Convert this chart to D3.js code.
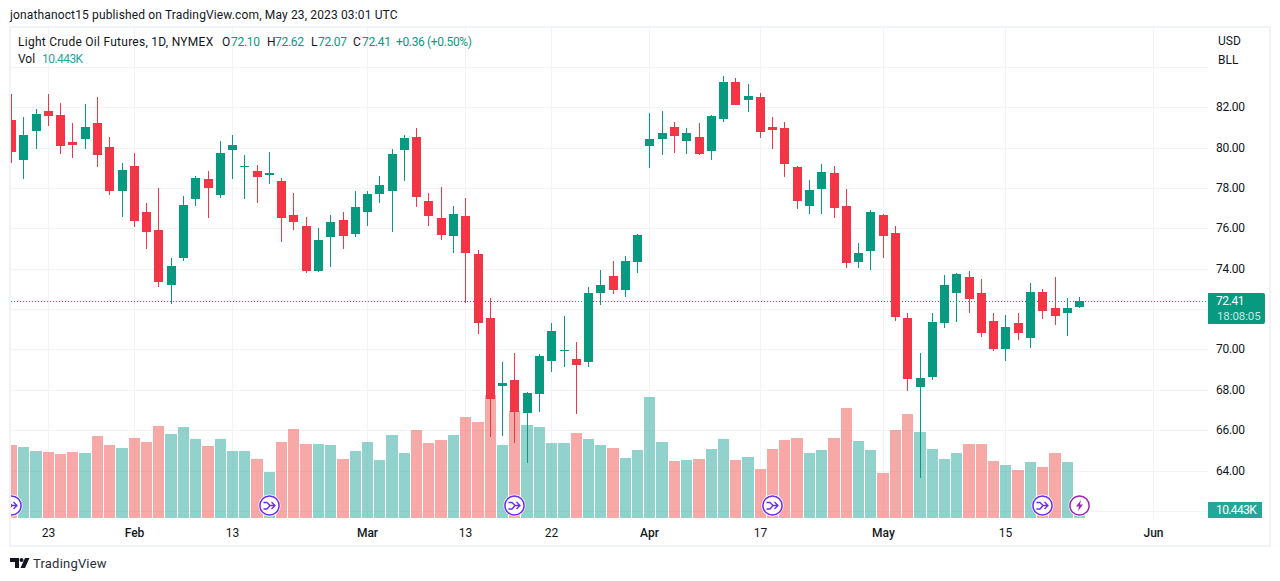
<!DOCTYPE html>
<html><head><meta charset="utf-8">
<script src="https://cdn.jsdelivr.net/npm/d3@7/dist/d3.min.js"></script>
<style>html,body{margin:0;padding:0;background:#fff}svg{display:block}
text{font-family:"Roboto","Noto Sans",sans-serif;font-size:12px;fill:#131722}</style>
</head><body><svg id="c" width="1280" height="581"></svg>
<script>
const opens=[81.37,79.39,80.83,81.82,81.62,80.28,80.43,81.22,80.03,77.85,79.09,76.81,75.92,73.19,74.53,77.46,78.45,77.65,79.88,79.07,78.84,78.64,78.35,76.66,76.12,73.89,75.57,76.42,75.72,76.81,77.70,77.85,79.88,80.53,77.36,76.51,75.62,76.61,74.73,71.56,68.19,68.49,66.85,67.79,69.43,69.95,69.53,69.38,72.80,73.64,72.95,74.33,80.08,80.43,81.02,80.33,80.53,79.83,81.42,83.25,82.36,82.51,81.02,80.97,79.04,77.11,77.95,78.74,77.11,74.33,74.88,76.66,75.77,71.56,68.14,68.64,71.31,72.80,73.59,72.80,71.41,70.02,71.31,70.57,72.85,72.05,71.81,72.10];
const highs=[82.66,81.52,81.92,82.66,82.21,81.22,82.16,82.51,80.53,79.24,79.73,77.26,78.01,74.53,77.61,78.60,78.84,80.33,80.63,79.64,79.14,79.79,78.50,77.75,76.56,76.02,76.66,76.81,77.85,77.85,78.60,79.93,80.63,80.97,77.75,78.05,77.11,77.50,74.93,72.55,69.38,69.83,67.89,69.78,71.31,71.66,70.37,73.10,73.94,74.38,74.63,75.72,81.72,81.82,81.27,80.97,81.22,81.62,83.55,83.45,83.15,82.71,81.52,81.27,79.09,78.40,79.19,79.09,77.95,75.28,76.91,76.71,76.12,71.81,69.83,71.81,73.69,73.79,73.89,73.49,71.81,71.71,71.81,73.29,73.00,73.59,72.55,72.62];
const lows=[79.24,78.45,79.93,81.07,79.69,79.49,79.93,79.04,77.65,76.56,76.07,74.98,73.10,72.25,74.38,77.11,76.51,77.50,78.45,77.46,77.26,78.20,75.33,75.92,73.79,73.84,74.09,74.98,75.57,76.12,77.26,75.82,78.35,77.06,76.12,75.41,74.78,72.30,70.77,65.66,65.71,65.37,64.37,66.90,68.88,69.13,66.80,69.13,72.20,72.75,72.60,73.79,78.99,79.64,79.73,79.69,79.64,79.39,81.27,82.11,81.77,80.48,79.93,78.55,76.96,76.71,76.71,76.51,74.04,74.04,73.94,74.53,71.41,67.94,63.63,68.49,71.06,71.36,71.81,70.62,69.92,69.43,70.47,70.07,71.51,71.21,70.67,72.07];
const closes=[79.79,80.63,81.67,81.57,80.08,80.13,81.02,79.64,77.85,78.89,76.37,75.82,73.34,74.13,77.16,78.50,78.01,79.73,80.13,79.09,78.55,78.74,76.51,76.32,73.89,75.43,76.32,75.62,77.06,77.70,78.15,79.69,80.48,77.56,76.61,75.67,76.71,74.78,71.31,67.55,68.34,66.90,67.84,69.68,70.92,69.97,69.23,72.80,73.19,72.95,74.38,75.67,80.43,80.73,80.58,80.73,79.69,81.57,83.25,82.11,82.56,80.78,80.88,79.19,77.36,77.90,78.79,77.01,74.29,74.78,76.81,75.62,71.61,68.54,68.59,71.36,73.19,73.74,72.50,70.82,70.02,71.11,70.82,72.85,71.91,71.66,72.05,72.41];
const volumes=[50.7,49.3,46.5,45.8,44.4,45.8,45.1,56.9,50.7,48.6,55.6,52.8,63.9,58.3,63.2,54.9,50,54.9,46.5,46.5,41,31.9,52.8,61.8,51.4,51.4,50.7,41,46.5,52.8,40.3,57.6,45.1,61.1,52.1,54.2,57.6,70.1,66.7,85.4,50.7,74.3,64.6,63.2,52.1,52.1,59,54.9,50.7,48.6,41.7,47.2,84,52.8,39.6,40.3,41,47.9,54.9,40.3,42.4,34,47.9,54.2,55.6,45.1,47.2,55.6,76.4,53.5,47.2,31.3,61.1,72.2,59.7,47.9,41,45.1,51.4,51.4,39.6,36.8,33.3,38.9,35.4,45.1,38.9,10.443];
const priceTicks=[84,82,80,78,76,74,72,70,68,66,64,62];
const priceLabels=[82,80,78,76,74,70,68,66,64];
const timeTickIdx=[3,10,18,29,37,44,52,61,71,81,93];
const timeTickLab=["23","Feb","13","Mar","13","22","Apr","17","May","15","Jun"];
const splitMarkers=[0,21,41,62,84];
const boltMarkers=[87];
const lastPrice=72.41;

const UP="#089981",DN="#F23645";
const svg=d3.select("#c");
const paneL=11,paneR=1208,paneT=28,paneB=518;
const x=d3.scaleLinear().domain([0,87]).range([11.6,1079.6]);
const px=i=>Math.floor(x(i));
const y=d3.scaleLinear().domain([82,64]).range([107.3,470.5]);
const v=d3.scaleLinear().domain([0,100]).range([518,374]);

// frame
svg.append("rect").attr("x",10).attr("y",27).attr("width",1260).attr("height",519).attr("fill","#fff").attr("stroke","#f0f3fa").attr("stroke-width",2);
svg.append("defs").append("clipPath").attr("id","pane").append("rect").attr("x",paneL).attr("y",paneT).attr("width",paneR-paneL).attr("height",paneB-paneT);
const pane=svg.append("g").attr("clip-path","url(#pane)");

// grid
pane.selectAll(".gh").data(priceTicks).join("line").attr("x1",paneL).attr("x2",paneR)
  .attr("y1",d=>Math.round(y(d))+.5).attr("y2",d=>Math.round(y(d))+.5).attr("stroke","#f3f3f5");
pane.selectAll(".gv").data(timeTickIdx).join("line").attr("y1",paneT).attr("y2",paneB)
  .attr("x1",d=>px(d)+.5).attr("x2",d=>px(d)+.5).attr("stroke","#f3f3f5");

// volume
pane.selectAll(".v").data(volumes).join("rect")
  .attr("x",(d,i)=>px(i-1)+7).attr("width",(d,i)=>px(i)+6-(px(i-1)+7))
  .attr("y",d=>Math.round(v(d))).attr("height",d=>518-Math.round(v(d)))
  .attr("fill",(d,i)=>closes[i]>=opens[i]?"rgb(38,166,154)":"rgb(239,83,80)").attr("fill-opacity",.5);

// price line
pane.append("line").attr("x1",paneL).attr("x2",paneR).attr("y1",Math.round(y(lastPrice))+.5).attr("y2",Math.round(y(lastPrice))+.5)
  .attr("stroke",UP).attr("stroke-dasharray","1,2");

// candles
const cg=pane.selectAll(".c").data(opens).join("g");
cg.append("rect").attr("x",(d,i)=>px(i)).attr("width",1)
  .attr("y",(d,i)=>Math.round(y(highs[i]))).attr("height",(d,i)=>Math.round(y(lows[i]))-Math.round(y(highs[i])))
  .attr("fill",(d,i)=>closes[i]>=opens[i]?UP:DN);
cg.append("rect").attr("x",(d,i)=>px(i)-4).attr("width",9)
  .attr("y",(d,i)=>Math.round(y(Math.max(opens[i],closes[i]))))
  .attr("height",(d,i)=>Math.max(1,Math.round(y(Math.min(opens[i],closes[i])))-Math.round(y(Math.max(opens[i],closes[i])))))
  .attr("fill",(d,i)=>closes[i]>=opens[i]?UP:DN);

// markers
const my=505.5;
const mk=pane.selectAll(".m").data(splitMarkers).join("g").attr("transform",d=>`translate(${px(d)+.5},${my})`);
mk.append("circle").attr("r",11).attr("fill","#fff");
mk.append("circle").attr("r",9.6).attr("fill","#fff").attr("stroke","#6a2cf5").attr("stroke-width",1.5);
mk.append("path").attr("d","M-6,-3 L-2.5,-3 L0.5,0 L5.5,0 M-6,3.5 L-2.5,3.5 L0.5,0 M2,-3.5 L5.5,0 L2,3.5").attr("fill","none").attr("stroke","#6a2cf5").attr("stroke-width",1.3);
const bk=pane.selectAll(".b").data(boltMarkers).join("g").attr("transform",d=>`translate(${px(d)+.5},${my})`);
bk.append("circle").attr("r",11).attr("fill","#fff");
bk.append("circle").attr("r",9.6).attr("fill","#fff").attr("stroke","#9c27b0").attr("stroke-width",1.5);
bk.append("path").attr("d","M1.5,-5.5 L-3.5,1 L-0.5,1 L-1.5,5.5 L3.5,-1 L0.5,-1 Z").attr("fill","#9c27b0");

// price axis
svg.append("rect").attr("x",1208).attr("y",28).attr("width",60).attr("height",490).attr("fill","#fff");
svg.selectAll(".pt").data(priceLabels).join("text").attr("x",1216).attr("y",d=>Math.round(y(d))+4).style("letter-spacing","-0.3px").text(d=>d.toFixed(2));
svg.append("text").attr("x",1218).attr("y",45).text("USD");
svg.append("text").attr("x",1218).attr("y",64).text("BLL");

// last price tag
svg.append("path").attr("d","M1208,293H1263a2,2 0 0 1 2,2V322a2,2 0 0 1 -2,2H1208Z").attr("fill",UP);
svg.append("text").attr("x",1216).attr("y",305).style("letter-spacing","-0.4px").style("fill","#fff").text(lastPrice.toFixed(2));
svg.append("text").attr("x",1217).attr("y",320).style("font-size","11.5px").style("letter-spacing","-0.1px").style("fill","#c4e8e2").text("18:08:05");
svg.append("rect").attr("x",1208).attr("y",502).attr("width",54).attr("height",16).attr("fill","#26a69a");
svg.append("text").attr("x",1216).attr("y",514).style("letter-spacing","-0.6px").style("fill","#fff").text("10.443K");

// time axis
svg.selectAll(".tt").data(timeTickIdx).join("text").attr("x",d=>px(d)+.5).attr("y",537).attr("text-anchor","middle")
  .style("font-weight",(d,i)=>/[A-Za-z]/.test(timeTickLab[i])?500:400).text((d,i)=>timeTickLab[i]);

// legend
const leg=[[18,"Light Crude Oil Futures, 1D, NYMEX","#131722",.26],[222,"O","#131722",0],[231,opens[87].toFixed(2),UP,-.3],[267,"H","#131722",0],[275,highs[87].toFixed(2),UP,-.3],[311,"L","#131722",0],[318,lows[87].toFixed(2),UP,-.3],[353,"C","#131722",0],[362,closes[87].toFixed(2),UP,-.3],[396,"+0.36 (+0.50%)",UP,-.35]];
svg.selectAll(".lg").data(leg).join("text").attr("x",d=>d[0]).attr("y",46).style("fill",d=>d[2]).style("letter-spacing",d=>d[3]+"px").text(d=>d[1]);
svg.append("text").attr("x",18).attr("y",63).text("Vol");
svg.append("text").attr("x",42).attr("y",63).style("letter-spacing","-0.55px").style("fill","#26a69a").text("10.443K");

// header, footer
svg.append("text").attr("x",10).attr("y",19).style("letter-spacing","0.14px").text("jonathanoct15 published on TradingView.com, May 23, 2023 03:01 UTC");
svg.append("path").attr("d","M10,558H19V568H15V562H10Z M21.5,560 m-2,0 a2,2 0 1 1 4,0 a2,2 0 1 1 -4,0 Z M25,558H29.5L25,568H20.5Z").attr("fill","#131722");
svg.append("text").attr("x",33).attr("y",568).style("font-size","13px").style("letter-spacing","0.2px").style("fill","#2a2e39").text("TradingView");
</script></body></html>
